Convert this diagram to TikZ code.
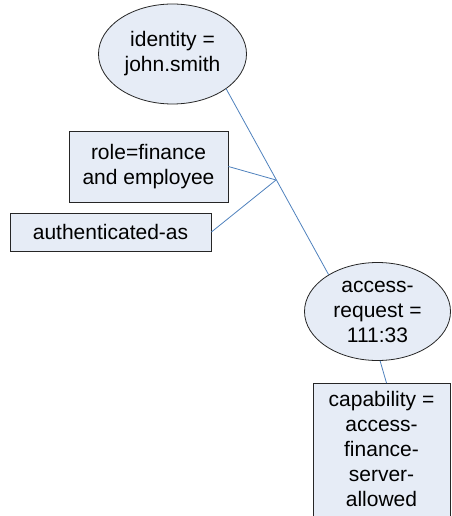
\documentclass[tikz,border=0pt]{standalone}
\usepackage{fontspec}
\setmainfont{Liberation Sans}
\usetikzlibrary{shapes.geometric}
\definecolor{nodefill}{RGB}{230,236,246}
\definecolor{linkblue}{RGB}{79,129,189}

\begin{document}
\begin{tikzpicture}[x=1pt,y=-1pt]
	\tikzset{entity/.style = {shape=ellipse,draw=black!85,fill=nodefill,line width=.8pt,inner sep=0pt,align=center,font=\fontsize{21}{25}\selectfont}}
	\tikzset{attrbox/.style = {shape=rectangle,draw=black!85,fill=nodefill,line width=.8pt,inner sep=0pt,align=center,font=\fontsize{21}{25}\selectfont}}
	\tikzset{link/.style = {draw=linkblue,line width=.8pt}}
	\useasboundingbox (0,0) rectangle (451,516);
	\clip (0,0) rectangle (451,516);
	\node[entity,minimum width=148pt,minimum height=100pt] (id) at (172.5,54) {identity =\\john.smith};
	\node[attrbox,minimum width=159pt,minimum height=71pt] (role) at (148.5,166.5) {role=finance\\and employee};
	\node[attrbox,minimum width=201pt,minimum height=38pt] (auth) at (110.5,232) {authenticated-as};
	\node[entity,minimum width=146pt,minimum height=98pt] (req) at (377.5,311.5) {access-\\request =\\111:33};
	\node[attrbox,anchor=north,minimum width=137pt,inner ysep=8pt,text depth=130pt] (cap) at (381.5,383) {capability =\\access-\\finance-\\server-\\allowed};
	\coordinate (jn) at (276,180);
	\path[link] (id.-33) edge (req.143);
	\path[link] (role.east) edge (jn);
	\path[link] (auth.east) edge (jn);
	\path[link] (req.-87) edge ([xshift=5pt]cap.north);
\end{tikzpicture}
\end{document}
